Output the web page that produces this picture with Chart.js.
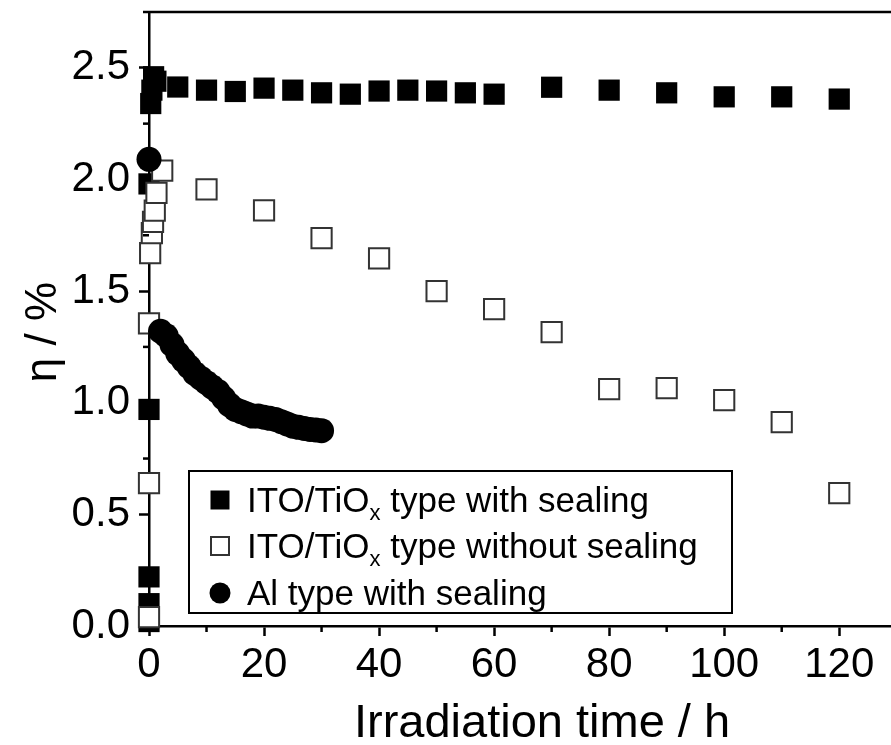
<!DOCTYPE html>
<html><head><meta charset="utf-8">
<script src="https://cdn.jsdelivr.net/npm/chart.js@4/dist/chart.umd.min.js"></script>
<style>html,body{margin:0;padding:0;background:#fff;}#wrap{width:891px;height:745px;}</style>
</head><body><div id="wrap"><canvas id="c" width="891" height="745"></canvas></div>
<script>
// ---- data ----
const xTickValues = [0, 20, 40, 60, 80, 100, 120];
const xMinorTicks = [10, 30, 50, 70, 90, 110];
const yTickValues = [0, 0.5, 1.0, 1.5, 2.0, 2.5];
const yMinorTicks = [0.25, 0.75, 1.25, 1.75, 2.25, 2.75];

const sealedTime = [0, 0, 0, 0, 0, 0.3, 0.5, 0.8, 1.2, 5, 10, 15, 20, 25, 30, 35, 40, 45, 50, 55, 60, 70, 80, 90, 100, 110, 120];
const sealedEta  = [0.02, 0.10, 0.22, 0.97, 1.98, 2.34, 2.40, 2.46, 2.44, 2.414, 2.40, 2.394, 2.409, 2.40, 2.388, 2.382, 2.396, 2.40, 2.396, 2.388, 2.382, 2.413, 2.40, 2.388, 2.37, 2.37, 2.36];

const unsealedTime = [0, 0, 0, 0.2, 0.5, 0.7, 1.0, 1.3, 2.3, 10, 20, 30, 40, 50, 60, 70, 80, 90, 100, 110, 120];
const unsealedEta  = [0.04, 0.64, 1.355, 1.67, 1.76, 1.81, 1.86, 1.94, 2.04, 1.956, 1.862, 1.737, 1.647, 1.50, 1.419, 1.316, 1.061, 1.065, 1.012, 0.913, 0.595];

const alTime = [0, 2, 3, 4, 5, 6, 7, 8, 9, 10, 11, 12, 13, 14, 15, 16, 17, 18, 19, 20, 21, 22, 23, 24, 25, 26, 27, 28, 29, 30];
const alEta  = [2.09, 1.32, 1.30, 1.26, 1.22, 1.19, 1.16, 1.13, 1.11, 1.09, 1.07, 1.05, 1.02, 0.99, 0.97, 0.96, 0.95, 0.94, 0.94, 0.935, 0.93, 0.925, 0.915, 0.905, 0.895, 0.89, 0.885, 0.88, 0.878, 0.875];

const seriesNames = ['ITO/TiO|x| type with sealing', 'ITO/TiO|x| type without sealing', 'Al type with sealing'];
const xTitle = 'Irradiation time / h';
const yTitle = 'η / %';

const toPts = (xs, ys) => xs.map((x, i) => ({x: x, y: ys[i]}));
const FONT = "'Liberation Sans', Arial, sans-serif";

const decor = {
  id: 'decor',
  afterDraw(chart) {
    const ctx = chart.ctx, xs = chart.scales.x, ys = chart.scales.y, a = chart.chartArea;
    ctx.save();
    ctx.strokeStyle = '#000'; ctx.lineWidth = 2.5; ctx.lineCap = 'butt';
    ctx.beginPath(); ctx.moveTo(a.left, a.top); ctx.lineTo(a.right, a.top); ctx.stroke();
    xMinorTicks.forEach(v => { const px = xs.getPixelForValue(v); ctx.beginPath(); ctx.moveTo(px, a.bottom); ctx.lineTo(px, a.bottom + 6); ctx.stroke(); });
    yMinorTicks.forEach(v => { const py = ys.getPixelForValue(v); ctx.beginPath(); ctx.moveTo(a.left, py); ctx.lineTo(a.left - 6, py); ctx.stroke(); });
    ctx.fillStyle = '#000';
    ctx.font = "47px " + FONT; ctx.textAlign = 'center'; ctx.textBaseline = 'alphabetic';
    ctx.fillText(xTitle, 542, 737);
    ctx.save(); ctx.translate(56, 332); ctx.rotate(-Math.PI / 2);
    ctx.font = "44px " + FONT; ctx.fillText(yTitle, 0, 0); ctx.restore();
    const bx = 189, by = 471, bw = 543, bh = 142;
    ctx.lineWidth = 2; ctx.strokeRect(bx, by, bw, bh);
    const rowsY = [500, 546, 593];
    const mx = 220;
    ctx.fillStyle = '#000'; ctx.fillRect(mx - 9.5, rowsY[0] - 9.5, 19, 19);
    ctx.fillStyle = '#fff'; ctx.strokeStyle = '#333'; ctx.lineWidth = 2;
    ctx.fillRect(mx - 9, rowsY[1] - 9, 18, 18); ctx.strokeRect(mx - 9, rowsY[1] - 9, 18, 18);
    ctx.fillStyle = '#000'; ctx.beginPath(); ctx.arc(mx, rowsY[2], 10.5, 0, Math.PI * 2); ctx.fill();
    const fs = 35;
    ctx.textAlign = 'left'; ctx.textBaseline = 'alphabetic'; ctx.fillStyle = '#000';
    seriesNames.forEach((name, i) => {
      const parts = name.split('|');
      let x = 247; const base = rowsY[i] + 12;
      parts.forEach((p, j) => {
        if (j % 2 === 1) { ctx.font = Math.round(fs * 0.62) + "px " + FONT; ctx.fillText(p, x, base + 8); }
        else { ctx.font = fs + "px " + FONT; ctx.fillText(p, x, base); }
        x += ctx.measureText(p).width;
      });
    });
    ctx.restore();
  }
};

new Chart(document.getElementById('c'), {
  type: 'scatter',
  data: {
    datasets: [
      { label: 'ITO/TiOx type with sealing', data: toPts(sealedTime, sealedEta), order: 3, clip: false,
        pointStyle: 'rect', pointRadius: 15, pointBackgroundColor: '#000', pointBorderColor: '#000', pointBorderWidth: 0 },
      { label: 'ITO/TiOx type without sealing', data: toPts(unsealedTime, unsealedEta), order: 2, clip: false,
        pointStyle: 'rect', pointRadius: 14.3, pointBackgroundColor: '#fff', pointBorderColor: '#333', pointBorderWidth: 2 },
      { label: 'Al type with sealing', data: toPts(alTime, alEta), order: 1, clip: false,
        pointStyle: 'circle', pointRadius: 12.5, pointBackgroundColor: '#000', pointBorderColor: '#000', pointBorderWidth: 0 }
    ]
  },
  options: {
    responsive: false, animation: false, devicePixelRatio: 1,
    layout: { autoPadding: false, padding: { top: 12, right: 0, left: 0, bottom: 0 } },
    plugins: { legend: { display: false }, tooltip: { enabled: false } },
    scales: {
      x: {
        type: 'linear', min: 0, max: 129,
        afterFit(s) { s.height = 119; s.paddingLeft = 0; s.paddingRight = 0; },
        afterBuildTicks(s) { s.ticks = xTickValues.map(v => ({value: v})); },
        ticks: { color: '#000', font: { family: FONT, size: 42 }, padding: 4, maxRotation: 0, autoSkip: false,
                 callback: v => String(v) },
        grid: { drawOnChartArea: false, drawTicks: true, tickLength: 10, tickWidth: 2.5, tickColor: '#000', color: '#000' },
        border: { display: true, color: '#000', width: 2.5 }
      },
      y: {
        type: 'linear', min: 0, max: 2.75,
        afterFit(s) { s.width = 149; s.paddingTop = 0; s.paddingBottom = 0; },
        afterBuildTicks(s) { s.ticks = yTickValues.map(v => ({value: v})); },
        ticks: { color: '#000', font: { family: FONT, size: 42 }, padding: 9, autoSkip: false,
                 callback: v => Number(v).toFixed(1) },
        grid: { drawOnChartArea: false, drawTicks: true, tickLength: 10, tickWidth: 2.5, tickColor: '#000', color: '#000' },
        border: { display: true, color: '#000', width: 2.5 }
      }
    }
  },
  plugins: [decor]
});
</script>
</body></html>
